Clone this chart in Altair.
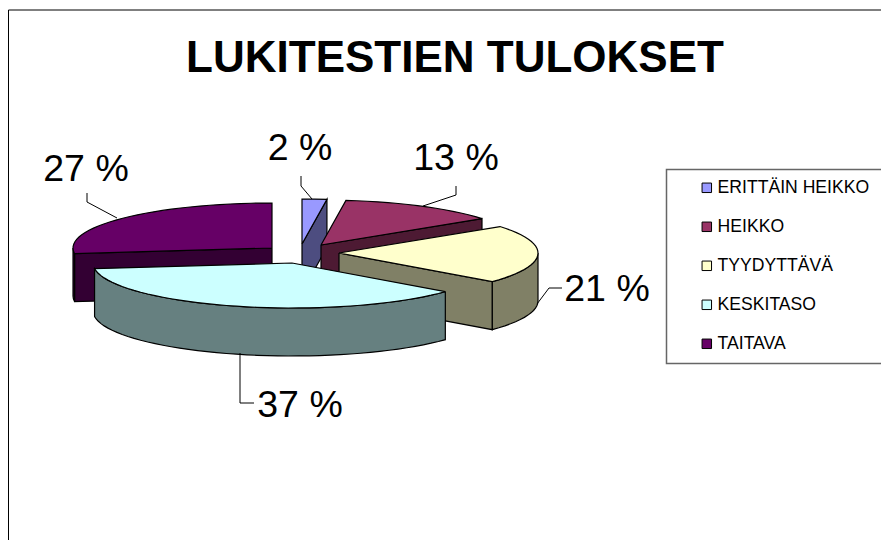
import math
import altair as alt
import pandas as pd

CATEGORIES = ["ERITTÄIN HEIKKO", "HEIKKO", "TYYDYTTÄVÄ", "KESKITASO", "TAITAVA"]
VALUES = [2, 13, 21, 37, 27]
TOP_COLORS = ["#9999FF", "#993366", "#FFFFCC", "#CCFFFF", "#660066"]
SIDE_COLORS = ["#4D4D80", "#4D1A33", "#808066", "#668080", "#330033"]
APEX_X = [302, 321, 339, 292, 272]
APEX_Y = [244, 245, 253, 263, 248]
PERCENT_LABELS = ["2 %", "13 %", "21 %", "37 %", "27 %"]
LABEL_X = [300, 456, 607, 300, 86]
LABEL_Y = [149, 159, 290, 406, 170]
LEADER_X = [[301, 301, 312], [456, 456, 423], [562, 549, 537], [240, 240, 254], [87, 87, 117]]
LEADER_Y = [[176, 186, 199], [186, 195, 206], [288, 288, 304], [353, 403, 403], [193, 202, 218]]
TITLE = "LUKITESTIEN TULOKSET"

W, H = 873, 532
RX, RY, DEPTH = 199, 45, 48
FONT = "Liberation Sans"

x_scale = alt.Scale(domain=[8, 8 + W], range=[0, W])
y_scale = alt.Scale(domain=[8 + H, 8], range=[H, 0])


def rim_point(cx, cy, deg):
    t = math.radians(deg)
    return cx + RX * math.sin(t), cy - RY * math.cos(t)


def arc(cx, cy, a, b):
    n = max(2, int(abs(b - a) / 3) + 1)
    return [rim_point(cx, cy, a + (b - a) * k / (n - 1)) for k in range(n)]


def polygon(points, category=None):
    pts = list(points) + [points[0]]
    return pd.DataFrame(
        {
            "px": [p[0] for p in pts],
            "py": [p[1] for p in pts],
            "i": range(len(pts)),
            "category": category,
        }
    )


def enc_xy():
    return dict(
        x=alt.X("px:Q", scale=x_scale, axis=None),
        y=alt.Y("py:Q", scale=y_scale, axis=None),
        order=alt.Order("i:Q"),
    )


def side_layer(points, color):
    return (
        alt.Chart(polygon(points))
        .mark_line(stroke="black", strokeWidth=1.2, fill=color, strokeJoin="miter")
        .encode(**enc_xy())
    )


legend = alt.Legend(
    title=None,
    orient="none",
    legendX=690,
    legendY=171,
    symbolType="square",
    symbolSize=90,
    symbolStrokeColor="black",
    symbolStrokeWidth=1,
    symbolOpacity=1,
    labelFont=FONT,
    labelFontSize=17.6,
    labelColor="black",
    labelOffset=2,
    labelLimit=0,
    rowPadding=20,
)


def top_layer(points, category):
    return (
        alt.Chart(polygon(points, category=category))
        .mark_line(stroke="black", strokeWidth=1.2, filled=True, strokeJoin="miter", opacity=1)
        .encode(
            fill=alt.Fill(
                "category:N",
                scale=alt.Scale(domain=CATEGORIES, range=TOP_COLORS),
                legend=legend,
            ),
            **enc_xy(),
        )
    )


frame = pd.DataFrame({"x": [8.5], "x2": [900], "y": [10], "y2": [560]})
background = (
    alt.Chart(frame)
    .mark_rect(fill="white", stroke="black", strokeWidth=1)
    .encode(
        x=alt.X("x:Q", scale=x_scale, axis=None),
        x2="x2:Q",
        y=alt.Y("y:Q", scale=y_scale, axis=None),
        y2="y2:Q",
    )
)

legend_frame = pd.DataFrame({"x": [666.5], "x2": [900], "y": [169.5], "y2": [363.5]})
legend_box = (
    alt.Chart(legend_frame)
    .mark_rect(fill="white", stroke="#666666", strokeWidth=1.5)
    .encode(
        x=alt.X("x:Q", scale=x_scale, axis=None),
        x2="x2:Q",
        y=alt.Y("y:Q", scale=y_scale, axis=None),
        y2="y2:Q",
    )
)

layers = [background, legend_box]

# running total turns the values into slice angles
starts = [sum(VALUES[:k]) / sum(VALUES) * 360 for k in range(len(VALUES))]
ends = [sum(VALUES[: k + 1]) / sum(VALUES) * 360 for k in range(len(VALUES))]

for k in [0, 1, 4, 2, 3]:
    cx, cy, a, b = APEX_X[k], APEX_Y[k], starts[k], ends[k]
    if b < 180:
        p = rim_point(cx, cy, b)
    elif a > 180:
        p = rim_point(cx, cy, a)
    else:
        p = None
    if p is not None:
        layers.append(
            side_layer(
                [(cx, cy), p, (p[0], p[1] + DEPTH), (cx, cy + DEPTH)], SIDE_COLORS[k]
            )
        )
    lo, hi = max(a, 90), min(b, 270)
    if lo < hi:
        top = arc(cx, cy, lo, hi)
        bottom = [(q[0], q[1] + DEPTH) for q in reversed(top)]
        layers.append(side_layer(top + bottom, SIDE_COLORS[k]))
    layers.append(top_layer([(cx, cy)] + arc(cx, cy, a, b), CATEGORIES[k]))

leader_rows = []
for k in range(len(VALUES)):
    for i, (lx, ly) in enumerate(zip(LEADER_X[k], LEADER_Y[k])):
        leader_rows.append({"px": lx, "py": ly, "i": i, "k": k})
leaders = (
    alt.Chart(pd.DataFrame(leader_rows))
    .mark_line(stroke="black", strokeWidth=1)
    .encode(detail="k:N", **enc_xy())
)
layers.append(leaders)

labels = (
    alt.Chart(pd.DataFrame({"t": PERCENT_LABELS, "px": LABEL_X, "py": LABEL_Y}))
    .mark_text(font=FONT, fontSize=37.5, color="black", align="center", baseline="middle")
    .encode(
        x=alt.X("px:Q", scale=x_scale, axis=None),
        y=alt.Y("py:Q", scale=y_scale, axis=None),
        text="t:N",
    )
)
layers.append(labels)

chart = (
    alt.layer(*layers)
    .properties(
        width=W,
        height=H,
        padding=0,
        autosize=alt.AutoSizeParams(type="none"),
        title=alt.TitleParams(
            TITLE,
            font=FONT,
            fontSize=44,
            fontWeight="bold",
            color="black",
            anchor="middle",
            frame="group",
            dx=10.5,
            dy=73,
            offset=0,
        ),
    )
    .configure_view(stroke=None)
)

chart.save("out.html", embed_options={"renderer": "svg", "actions": False})
